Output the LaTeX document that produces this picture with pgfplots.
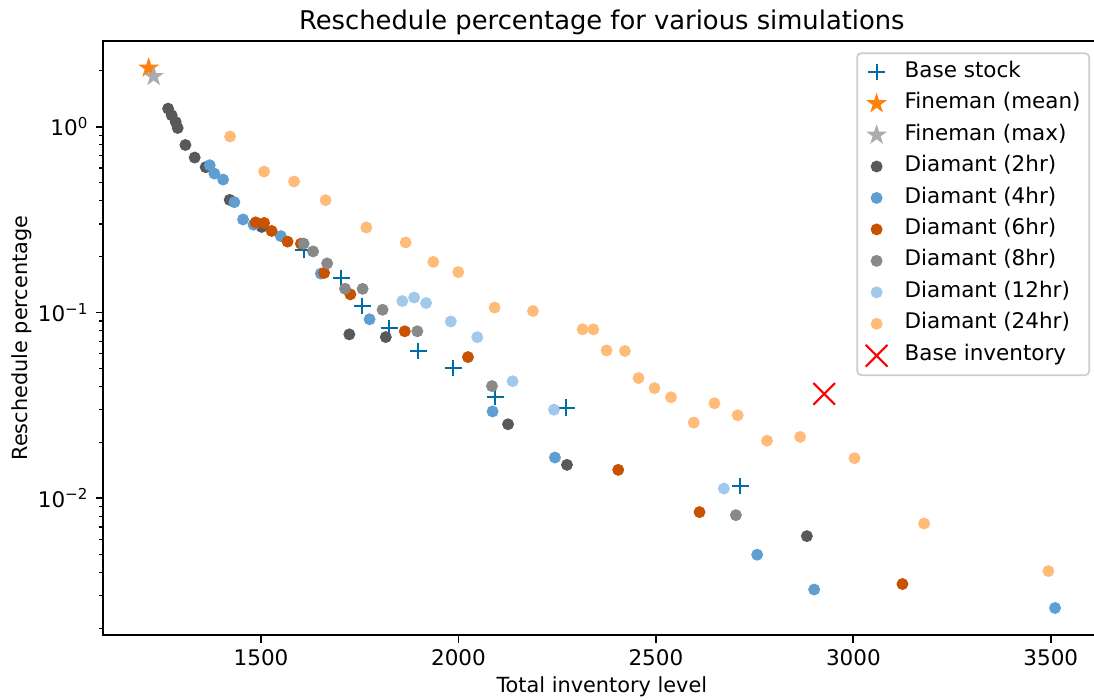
\documentclass[border=0pt]{standalone}
\usepackage{fontspec}
\setmainfont{DejaVu Sans}
\usepackage{pgfplots}
\pgfplotsset{compat=1.18}
\definecolor{cbBlue}{HTML}{006BA4}
\definecolor{cbOrange}{HTML}{FF800E}
\definecolor{cbGray}{HTML}{ABABAB}
\definecolor{cbDark}{HTML}{595959}
\definecolor{cbMid}{HTML}{5F9ED1}
\definecolor{cbRed}{HTML}{C85200}
\definecolor{cbGrayB}{HTML}{898989}
\definecolor{cbLight}{HTML}{A2C8EC}
\definecolor{cbPeach}{HTML}{FFBC79}
\pgfdeclareplotmark{fstar}{%
  \pgfpathmoveto{\pgfpointpolar{90}{\pgfplotmarksize}}%
  \pgfpathlineto{\pgfpointpolar{126}{0.381966\pgfplotmarksize}}%
  \pgfpathlineto{\pgfpointpolar{162}{\pgfplotmarksize}}%
  \pgfpathlineto{\pgfpointpolar{198}{0.381966\pgfplotmarksize}}%
  \pgfpathlineto{\pgfpointpolar{234}{\pgfplotmarksize}}%
  \pgfpathlineto{\pgfpointpolar{270}{0.381966\pgfplotmarksize}}%
  \pgfpathlineto{\pgfpointpolar{306}{\pgfplotmarksize}}%
  \pgfpathlineto{\pgfpointpolar{342}{0.381966\pgfplotmarksize}}%
  \pgfpathlineto{\pgfpointpolar{18}{\pgfplotmarksize}}%
  \pgfpathlineto{\pgfpointpolar{54}{0.381966\pgfplotmarksize}}%
  \pgfpathclose
  \pgfusepathqfillstroke
}
\newcommand{\basefont}{\fontsize{10.32}{12.4}\selectfont}
\begin{document}
\begin{tikzpicture}
\useasboundingbox (-49.58pt,-30.72pt) rectangle (475.54pt,304.8pt);
\begin{axis}[
  at={(0pt,0pt)}, anchor=south west,
  scale only axis, width=478.6pt, height=285.1pt,
  xmin=1100.4, xmax=3625.6,
  ymode=log, ymin=0.001838, ymax=2.893,
  xtick={1500,2000,2500,3000,3500},
  ytick={0.01,0.1,1},
  yticklabels={10\textsuperscript{−2},10\textsuperscript{−1},10\textsuperscript{0}},
  minor ytick={0.002,0.003,0.004,0.005,0.006,0.007,0.008,0.009,0.02,0.03,0.04,0.05,0.06,0.07,0.08,0.09,0.2,0.3,0.4,0.5,0.6,0.7,0.8,0.9,2,3},
  tick align=outside, tick pos=left,
  major tick length=3.6pt, minor tick length=2.06pt,
  every major tick/.append style={line width=0.83pt, black},
  every minor tick/.append style={line width=0.62pt, black},
  axis line style={line width=0.83pt},
  xticklabel style={/pgf/number format/1000 sep={}, /pgf/number format/assume math mode=true},
  tick label style={font=\basefont},
  label style={font=\basefont},
  title={Reschedule percentage for various simulations},
  every axis title/.style={at={(axis description cs:0.5,1.0202)}, anchor=base, inner sep=0pt, font=\fontsize{12.38}{14.8}\selectfont},
  xlabel={Total inventory level},
  ylabel={Reschedule percentage},
  every axis x label/.style={at={(axis description cs:0.5,-0.0975)}, anchor=base, inner sep=0pt},
  every axis y label/.style={at={(axis description cs:-0.07647,0.5)}, rotate=90, anchor=base, inner sep=0pt},
  legend cell align=left,
  legend image code/.code={\draw[mark repeat=2,mark phase=2,#1] plot coordinates {(0pt,0pt) (10.3pt,0pt) (20.6pt,0pt)};},
  legend style={at={(axis description cs:0.98967,0.981)}, anchor=north east,
    draw=black!20, line width=0.83pt, rounded corners=2pt, fill=white,
    inner xsep=4.13pt, inner ysep=4.13pt, row sep=5.2pt,
    nodes={inner sep=0pt, text height=7.4pt, text depth=2.5pt},
    font=\basefont,
    /tikz/every odd column/.append style={column sep=8.26pt}},
]
\addplot[only marks, mark=+, mark size=4pt, line width=1.03pt, color=cbBlue] coordinates {
(1607.8,0.2168) (1703.3,0.1533) (1756.5,0.1083) (1824.8,0.0825) (1898.2,0.0621) (1986.8,0.0503) (2093.1,0.0351) (2272.9,0.0307) (2713.4,0.01167)};
\addlegendentry{Base stock}
\addplot[only marks, mark=fstar, mark size=4.4pt, line width=0.5pt, color=cbOrange] coordinates {(1215.4,2.07)};
\addlegendentry{Fineman (mean)}
\addplot[only marks, mark=fstar, mark size=4.4pt, line width=0.5pt, color=cbGray] coordinates {(1228.1,1.868)};
\addlegendentry{Fineman (max)}
\addplot[only marks, mark=*, mark size=2.6pt, line width=0.5pt, color=cbDark] coordinates {
(1264.6,1.252) (1273.7,1.153) (1283.8,1.061) (1288.9,0.985) (1308.4,0.798) (1331.9,0.683) (1359.8,0.606) (1420.5,0.404) (1501.5,0.289) (1723.5,0.0763) (1815.9,0.0738) (2125.5,0.02505) (2274.7,0.01514) (2882.3,0.00626)};
\addlegendentry{Diamant (2hr)}
\addplot[only marks, mark=*, mark size=2.6pt, line width=0.5pt, color=cbMid] coordinates {
(1369.9,0.621) (1381.8,0.560) (1403.8,0.520) (1432.4,0.3927) (1454.4,0.317) (1481,0.297) (1550.1,0.2578) (1651.4,0.1621) (1774.7,0.0920) (2086.3,0.02936) (2244.3,0.01658) (2756.4,0.00497) (2900.7,0.00323) (3510.8,0.002569)};
\addlegendentry{Diamant (4hr)}
\addplot[only marks, mark=*, mark size=2.6pt, line width=0.5pt, color=cbRed] coordinates {
(1486.3,0.3059) (1507.8,0.3036) (1526.8,0.2749) (1567.1,0.2408) (1600.8,0.2347) (1659.7,0.1634) (1726.1,0.1253) (1864,0.0793) (2024,0.0576) (2404.5,0.01423) (2610.4,0.00843) (3124.3,0.003457)};
\addlegendentry{Diamant (6hr)}
\addplot[only marks, mark=*, mark size=2.6pt, line width=0.5pt, color=cbGrayB] coordinates {
(1607.8,0.2350) (1631.6,0.2133) (1667.3,0.1839) (1712.7,0.1343) (1757.2,0.1341) (1807.8,0.1035) (1895.7,0.0793) (2084.8,0.0402) (2702.5,0.00812)};
\addlegendentry{Diamant (8hr)}
\addplot[only marks, mark=*, mark size=2.6pt, line width=0.5pt, color=cbLight] coordinates {
(1857.7,0.1153) (1887.6,0.1204) (1918,0.1125) (1980.5,0.0895) (2047.6,0.0737) (2137,0.0427) (2241.8,0.0300) (2672.1,0.01129)};
\addlegendentry{Diamant (12hr)}
\addplot[only marks, mark=*, mark size=2.6pt, line width=0.5pt, color=cbPeach] coordinates {
(1421.5,0.886) (1507.6,0.574) (1583.5,0.5074) (1663.3,0.4026) (1766.6,0.2871) (1866.1,0.2384) (1936.2,0.1874) (1999.5,0.1651) (2091.4,0.1064) (2188.6,0.1019) (2314.2,0.0813) (2341.3,0.0812) (2374.9,0.0625) (2421.5,0.0621) (2455.9,0.0444) (2496.4,0.0392) (2538.2,0.0350) (2595.7,0.02556) (2648.3,0.0325) (2707.1,0.0280) (2781.3,0.02043) (2865.3,0.02141) (3002.8,0.01645) (3179.2,0.00732) (3493.9,0.00406)};
\addlegendentry{Diamant (24hr)}
\addplot[only marks, mark=x, mark size=7.35pt, line width=1.03pt, color=red] coordinates {(2926.1,0.0365)};
\addlegendentry{Base inventory}
\end{axis}
\end{tikzpicture}
\end{document}
